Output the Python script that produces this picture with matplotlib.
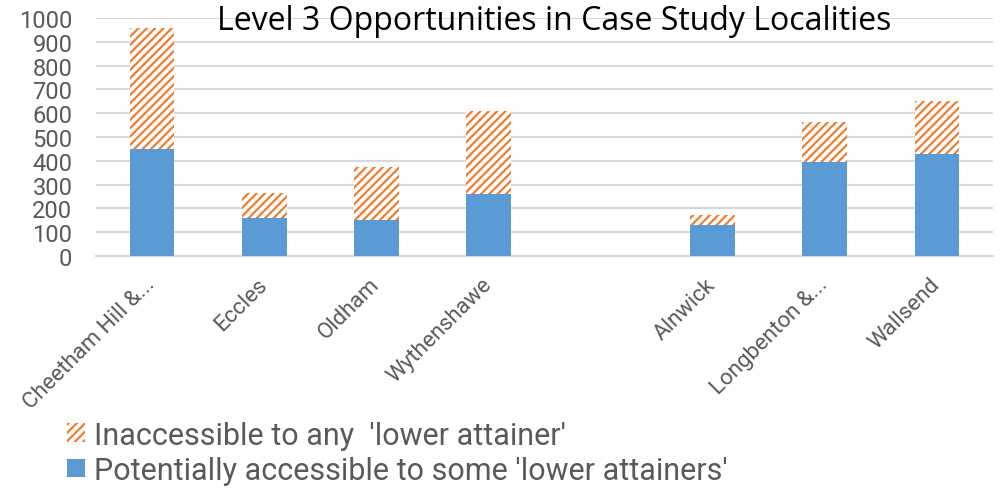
import numpy as np
import matplotlib.pyplot as plt
from matplotlib.patches import Patch

localities = ['Cheetham Hill &...', 'Eccles', 'Oldham', 'Wythenshawe',
              'Alnwick', 'Longbenton &...', 'Wallsend']
accessible = [450, 160, 150, 260, 130, 395, 430]
inaccessible = [510, 105, 225, 348, 42, 169, 220]

blue = '#5b9bd5'
orange = '#ed7d31'
grey_text = '#595959'
grid_grey = '#d9d9d9'

# Manchester group, one blank slot, then the Tyneside group
slots = np.r_[0:4, 5:8]

plt.rcParams['hatch.linewidth'] = 1.6
plt.rcParams['hatch.color'] = orange

fig = plt.figure(figsize=(10.05, 4.89), dpi=100)
ax = fig.add_axes([96 / 1005, 1 - 257 / 489, (993 - 96) / 1005, (257 - 19) / 489])

ax.bar(slots, accessible, width=0.4, color=blue, zorder=3)
ax.bar(slots, inaccessible, width=0.4, bottom=accessible,
       color='white', hatch='////', edgecolor=orange, linewidth=0, zorder=3)

ax.set_xlim(-0.5, 7.5)
ax.set_ylim(0, 1000)
ax.set_yticks(np.arange(0, 1001, 100))
ax.yaxis.grid(True, color=grid_grey, linewidth=1.5, zorder=0)
for s in ['top', 'right', 'left']:
    ax.spines[s].set_visible(False)
ax.spines['bottom'].set_color(grid_grey)
ax.spines['bottom'].set_linewidth(1.5)
ax.tick_params(axis='both', length=0, colors=grey_text)
ax.tick_params(axis='y', pad=17)
for lbl in ax.get_yticklabels():
    lbl.set_fontfamily('Roboto')
    lbl.set_fontsize(17)

ax.set_xticks(slots)
ax.set_xticklabels(localities, rotation=45, ha='right', va='center',
                   rotation_mode='anchor', family='Roboto', fontsize=16,
                   color=grey_text)
ax.tick_params(axis='x', pad=18)

fig.text(554.5 / 1005, 1 - 22 / 489, 'Level 3 Opportunities in Case Study Localities',
         ha='center', va='center', family='Open Sans', fontsize=23, color='black')

handles = [Patch(facecolor='white', edgecolor=orange, hatch='////', linewidth=0),
           Patch(facecolor=blue, linewidth=0)]
labels = ["Inaccessible to any  'lower attainer'",
          "Potentially accessible to some 'lower attainers'"]
fig.legend(handles, labels, loc='upper left', bbox_to_anchor=(67 / 1005, 0.138),
           frameon=False, prop={'family': 'Roboto', 'size': 22},
           handlelength=0.59, handleheight=0.56, handletextpad=0.3,
           labelspacing=0.2, labelcolor=grey_text,
           borderaxespad=0, borderpad=0)

fig.savefig('out.png', dpi=100)
